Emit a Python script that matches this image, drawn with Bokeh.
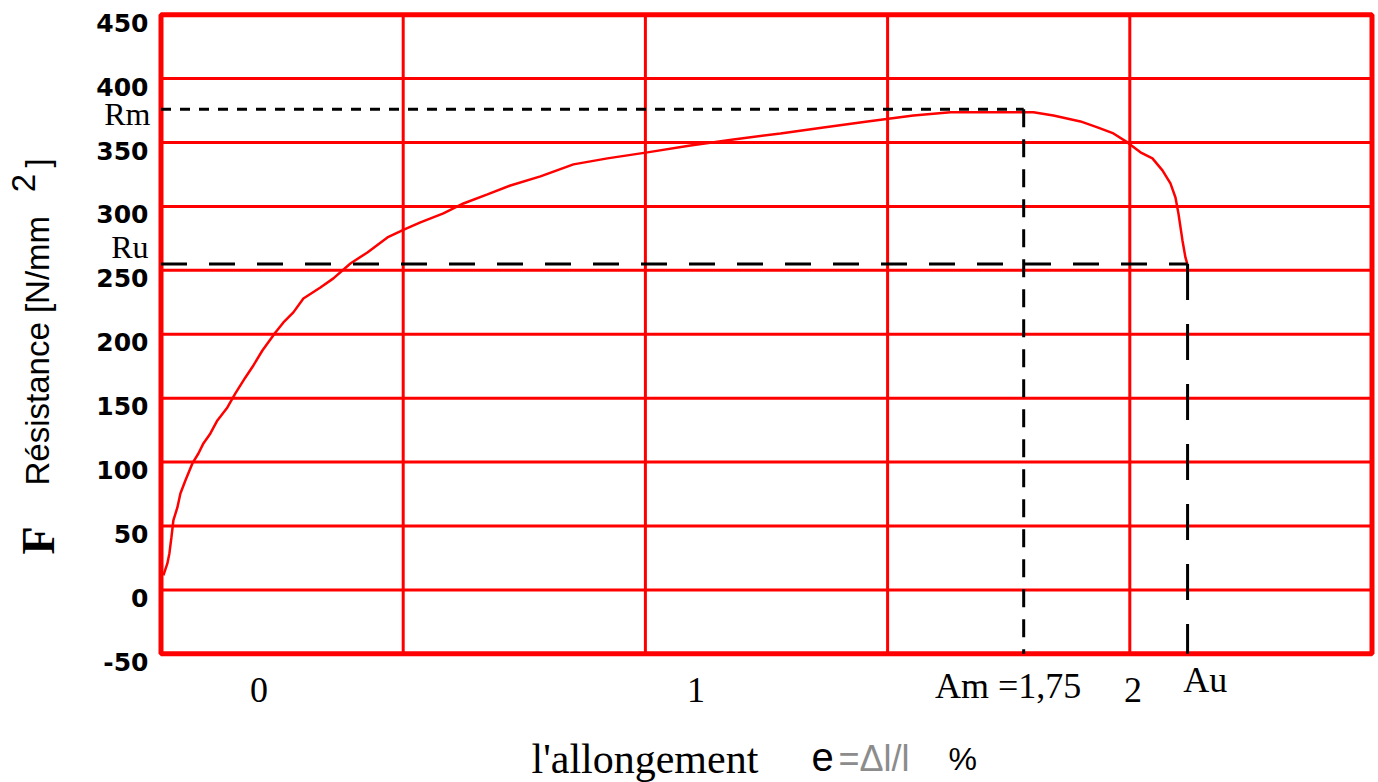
import math

from bokeh.plotting import figure
from bokeh.models import Range1d
from bokeh.core.properties import value
from bokeh.embed import file_html
from bokeh.resources import INLINE

# Tensile test: elongation e (%) against resistance (N/mm2)
strain = [-0.2185, -0.2094, -0.2048, -0.2002, -0.1957, -0.1865, -0.1796, -0.1682,
          -0.1522, -0.1384, -0.1270, -0.1110, -0.0950, -0.0721, -0.0538, -0.0309,
          -0.0126, 0.0080, 0.0378, 0.0561, 0.0789, 0.1018, 0.1407, 0.1705,
          0.2094, 0.2483, 0.2941, 0.3330, 0.3696, 0.4222, 0.4680, 0.5229,
          0.5755, 0.6442, 0.7197, 0.7975, 0.8890, 0.9874, 1.0858, 1.1934,
          1.2918, 1.3925, 1.4977, 1.5824, 1.6968, 1.7723, 1.8181, 1.8799,
          1.9188, 1.9554, 1.9874, 2.0172, 2.0446, 2.0675, 2.0858, 2.0973,
          2.1041, 2.1133, 2.1201, 2.1247]
stress = [11.3, 20.7, 28.5, 41.0, 54.3, 64.5, 75.4, 85.6,
          98.9, 106.7, 114.6, 122.4, 132.6, 142.7, 153.7, 166.2,
          175.6, 187.3, 201.4, 209.2, 217.1, 228.0, 236.6, 243.7,
          255.4, 264.0, 275.7, 282.0, 287.5, 294.5, 302.3, 309.4,
          316.4, 323.5, 332.9, 337.6, 342.3, 347.7, 352.4, 357.1,
          361.8, 366.5, 371.2, 373.6, 373.6, 373.6, 371.2, 366.5,
          361.8, 357.1, 350.1, 342.3, 337.6, 328.2, 318.0, 307.0,
          294.5, 273.4, 260.1, 254.6]

RM = 376      # maximum resistance
RU = 255      # resistance at rupture
AM = 1.75     # elongation at maximum load
AU = 2.125    # elongation at rupture

y_ticks = [-50, 0, 50, 100, 150, 200, 250, 300, 350, 400, 450]
y_tick_labels = ["-50", "0", "50", "100", "150", "200", "250", "300", "350", "400", "450"]
x_ticks = [0, 1, 2]
x_tick_labels = ["0", "1", "2"]

# extent of the boxed chart area
X_MIN, X_MAX = -0.224, 2.547
Y_MIN, Y_MAX = -50, 450

W, H = 1378, 782
# margins (px) around the boxed area, where the scale texts sit
ML, MR, MT, MB = 160.5, 6.5, 14.2, 128.7
sx = (X_MAX - X_MIN) / (W - ML - MR)
sy = (Y_MAX - Y_MIN) / (H - MT - MB)

RED = "#ff0000"

p = figure(width=W, height=H,
           x_range=Range1d(X_MIN - ML * sx, X_MAX + MR * sx),
           y_range=Range1d(Y_MIN - MB * sy, Y_MAX + MT * sy),
           output_backend="svg", toolbar_location=None,
           x_axis_location=None, y_axis_location=None,
           min_border=0)
p.background_fill_color = "white"
p.border_fill_color = "white"
p.outline_line_color = None
p.grid.visible = False

# grid: five equal columns, one row every 50 N/mm2
step = (X_MAX - X_MIN) / 5
grid_x = [X_MIN + k * step for k in range(1, 5)]
p.segment(x0=grid_x, y0=[Y_MIN] * 4, x1=grid_x, y1=[Y_MAX] * 4,
          line_color=RED, line_width=3)
p.segment(x0=[X_MIN] * len(y_ticks), y0=y_ticks, x1=[X_MAX] * len(y_ticks), y1=y_ticks,
          line_color=RED, line_width=3)
p.quad(left=[X_MIN], right=[X_MAX], bottom=[Y_MIN], top=[Y_MAX],
       fill_color=None, line_color=RED, line_width=5)

# stress-strain curve
p.line(strain, stress, line_color=RED, line_width=2.5)

# construction lines for Rm / Am and Ru / Au
p.line([X_MIN, AM], [RM, RM], line_color="black", line_width=3, line_dash="10 9")
p.line([AM, AM], [RM, Y_MIN], line_color="black", line_width=3, line_dash="18 12")
p.line([X_MIN, AU], [RU, RU], line_color="black", line_width=3, line_dash="26 22")
p.line([AU, AU], [RU, Y_MIN], line_color="black", line_width=3, line_dash="36 24")


def put(text, x, y, dx, dy, size, font, align="left", baseline="middle",
        angle=0.0, color="black", style="normal"):
    xs = x if isinstance(x, list) else [x]
    ys = y if isinstance(y, list) else [y] * len(xs)
    if len(xs) == 1 and len(ys) > 1:
        xs = xs * len(ys)
    texts = text if isinstance(text, list) else [text]
    p.text(x=xs, y=ys, text=texts, x_offset=dx, y_offset=dy, angle=angle,
           text_font=value(font), text_font_size=value(f"{size}px"),
           text_font_style=style, text_align=align, text_baseline=baseline,
           text_color=color)


# resistance scale (left)
put(y_tick_labels, [X_MIN], y_ticks, -12.5, 8, 25, "DejaVu Sans",
    align="right", style="bold")
put("Rm", X_MIN, RM, -10.5, 5, 32, "Liberation Serif", align="right")
put("Ru", X_MIN, RU, -12.5, -17, 32, "Liberation Serif", align="right")

# elongation scale (below)
put(x_tick_labels, x_ticks, Y_MIN, 0, 36.5, 36, "Liberation Serif", align="center")
put("Am =1,75", AM, Y_MIN, -15.5, 31.7, 36, "Liberation Serif", align="center")
put("Au", AU, Y_MIN, -4.4, 26.2, 36, "Liberation Serif", align="left")

# vertical title
put("F", X_MIN, Y_MIN, -123, -113.3, 46, "Liberation Serif", align="center",
    angle=math.pi / 2, style="bold")
put("Résistance [N/mm", X_MIN, Y_MIN, -124, -168.3, 33, "Liberation Sans",
    align="left", angle=math.pi / 2)
put("2", X_MIN, Y_MIN, -137.5, -470.8, 33, "Liberation Sans",
    align="center", angle=math.pi / 2)
put("]", X_MIN, Y_MIN, -124, -491, 33, "Liberation Sans",
    align="center", angle=math.pi / 2)

# horizontal title
put("l'allongement", X_MIN, Y_MIN, 370.5, 104.7, 42, "Liberation Serif")
put("e", X_MIN, Y_MIN, 650.5, 103, 40, "Liberation Sans")
put("=Δl/l", X_MIN, Y_MIN, 677.5, 104.7, 36, "Liberation Sans", color="#8c8c8c")
put("%", X_MIN, Y_MIN, 787.5, 104.7, 32, "Liberation Sans")

open("out.html", "w").write(file_html(p, INLINE))
